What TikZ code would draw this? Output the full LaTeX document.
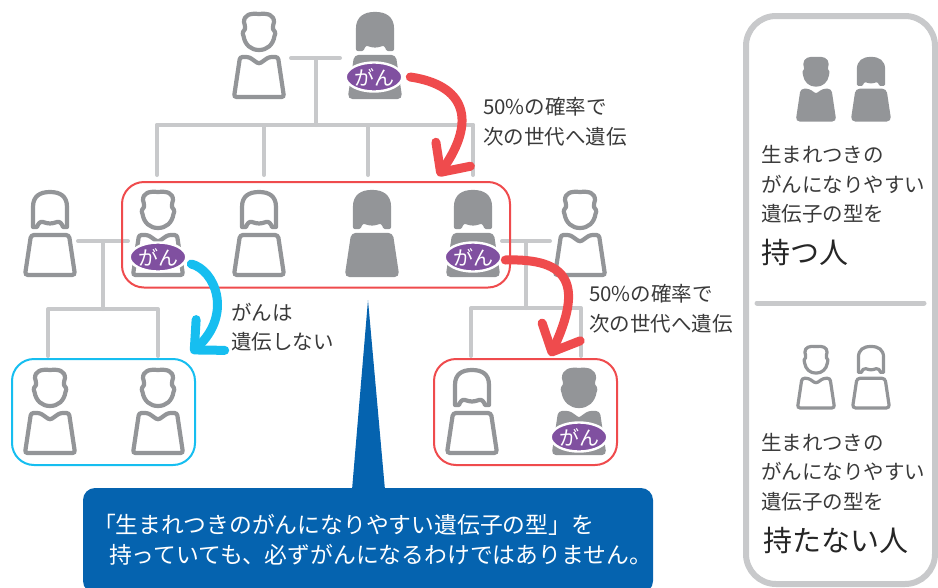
\documentclass[tikz,border=0pt]{standalone}
\usepackage{fontspec}
\setmainfont{Noto Sans CJK JP}
\usetikzlibrary{arrows.meta, positioning, shapes.geometric}

\definecolor{persongray}{HTML}{939598}
\definecolor{treegray}{HTML}{C8C9CB}
\definecolor{riskred}{HTML}{EF4B4D}
\definecolor{safeblue}{HTML}{16BEF0}
\definecolor{notecolor}{HTML}{0563AF}
\definecolor{badgecolor}{HTML}{8050A0}
\definecolor{textcolor}{HTML}{3A3A3A}

\begin{document}
\begin{tikzpicture}[
    x=1pt, y=-1pt,
    every node/.style={outer sep=0pt},
    treeline/.style={draw=treegray, line width=4pt, line cap=round, line join=round},
    badge/.style={ellipse, draw=white, line width=2.4pt, fill=badgecolor, text=white, inner sep=0pt, minimum width=56pt, minimum height=29pt, font=\fontsize{20}{20}\selectfont},
    familybox/.style={draw, rounded corners=22pt, line width=2pt},
    bigarrow/.style={line width=9pt, line cap=round, line join=round, -{Straight Barb[round, length=22pt, width=42pt]}},
    caption/.style={anchor=west, align=left, inner sep=0pt, text=textcolor, font=\fontsize{20.5}{29.5}\selectfont},
    keyword/.style={anchor=west, inner sep=0pt, text=black!85, font=\fontsize{29}{29}\selectfont},
    small/.style={scale=0.74, line width=3.2pt},
    man/.pic={
        \path[draw=persongray, fill=#1, line join=round] (0,2) .. controls (-9,1) and (-15,3) .. (-15,10) .. controls (-15,13) and (-13,14) .. (-14,17) .. controls (-16,19) and (-17,21) .. (-15.5,24) .. controls (-14,33) and (-8,38) .. (0,38) .. controls (8,38) and (14,33) .. (15.5,24) .. controls (17,21) and (16,19) .. (14,17) .. controls (13,14) and (15,13) .. (15,10) .. controls (15,3) and (9,1) .. (0,2) -- cycle;
        \path[draw=persongray, fill=#1, rounded corners=2.5pt] (-19,45) -- (-10,45) -- (0,52) -- (10,45) -- (19,45) -- (25,85) -- (-25,85) -- cycle;
    },
    woman/.pic={
        \path[draw=persongray, fill=#1, line join=round] (-17,17) .. controls (-17,6) and (-10,2) .. (0,2) .. controls (10,2) and (17,6) .. (17,17) -- (17,37) -- (13,37) .. controls (12,34) and (10,31) .. (7,32) .. controls (4,33) and (2,33.5) .. (0,33.5) .. controls (-2,33.5) and (-4,33) .. (-7,32) .. controls (-10,31) and (-12,34) .. (-13,37) -- (-17,37) -- cycle;
        \path[draw=persongray, fill=#1, rounded corners=3pt] (-19,45) -- (19,45) -- (25,85) -- (-25,85) -- cycle;
    },
    line width=4.2pt
]

%Background
\useasboundingbox (0,0) rectangle (938,587);

% Family tree lines
\coordinate (topleft) at (291,58);
\coordinate (topright) at (340,58);
\coordinate (topjoin) at (316,58);
\coordinate (topbus) at (316,125);
\coordinate (dropa) at (157,175);
\coordinate (dropb) at (264,175);
\coordinate (dropc) at (368,175);
\coordinate (dropd) at (473,175);
\draw[treeline] (topleft) -- (topright);
\draw[treeline] (topjoin) -- (topbus);
\draw[treeline] (dropa |- topbus) -- (dropd |- topbus);
\foreach \d in {dropa, dropb, dropc, dropd}
    \draw[treeline] (\d) -- (\d |- topbus);

\coordinate (leftleft) at (78,241);
\coordinate (leftright) at (128,241);
\coordinate (leftjoin) at (103,241);
\coordinate (leftbus) at (103,309);
\coordinate (dropl) at (48,356);
\coordinate (dropm) at (158,356);
\draw[treeline] (leftleft) -- (leftright);
\draw[treeline] (leftjoin) -- (leftbus);
\draw[treeline] (dropl) |- (leftbus) -| (dropm);

\coordinate (rightleft) at (502,241);
\coordinate (rightright) at (550,241);
\coordinate (rightjoin) at (526,241);
\coordinate (rightbus) at (526,308);
\coordinate (dropr) at (471,356);
\coordinate (drops) at (581,356);
\draw[treeline] (rightleft) -- (rightright);
\draw[treeline] (rightjoin) -- (rightbus);
\draw[treeline] (dropr) |- (rightbus) -| (drops);

% People
\pic (grandfather) at (259,12) {man={white}};
\pic (grandmother) at (375,12) {woman={persongray}};

\pic (auntinlaw) at (50,190) {woman={white}};
\pic (uncle) at (158,190) {man={white}};
\pic (aunt) at (259,190) {woman={white}};
\pic (auntfilled) at (372,190) {woman={persongray}};
\pic (mother) at (473,190) {woman={persongray}};
\pic (father) at (580,190) {man={white}};

\pic (cousina) at (50,368) {man={white}};
\pic (cousinb) at (158,368) {man={white}};
\pic (daughter) at (472,368) {woman={white}};
\pic (son) at (579,368) {man={persongray}};

% Family boxes
\node[familybox, draw=riskred, minimum width=388pt, minimum height=105.5pt, anchor=north west] (siblings) at (122,182) {};
\node[familybox, draw=safeblue, minimum width=183pt, minimum height=106pt, anchor=north west] (cousins) at (12,359) {};
\node[familybox, draw=riskred, minimum width=183pt, minimum height=106pt, anchor=north west] (children) at (434,359) {};

% Badges
\node[badge] (gangrand) at (374,77) {がん};
\node[badge] (ganuncle) at (158,257) {がん};
\node[badge] (ganmother) at (473,257) {がん};
\node[badge] (ganson) at (579,437) {がん};

% Arrows
\coordinate (tipgrand) at (438,176);
\coordinate (tipmother) at (550,356);
\coordinate (tipuncle) at (191,353);
\draw[bigarrow, riskred] ([xshift=8pt]gangrand.east) .. controls (465,85) and (477,120) .. (tipgrand);
\draw[bigarrow, riskred] ([xshift=4pt, yshift=-3pt]ganmother.east) .. controls (570,258) and (583,285) .. (tipmother);
\draw[bigarrow, safeblue] ([xshift=5pt, yshift=-7pt]ganuncle.east) .. controls (215,270) and (233,314) .. (tipuncle);

% Labels
\node[caption] (probtop) at (483,121.5) {50\%の確率で\\次の世代へ遺伝};
\node[caption] (probright) at (589,308.5) {50\%の確率で\\次の世代へ遺伝};
\node[caption] (nopass) at (231,327) {がんは\\遺伝しない};

% Note
\coordinate (notetip) at (368,300);
\node[fill=notecolor, rounded corners=12pt, minimum width=570pt, minimum height=105pt, anchor=north west] (note) at (83,488) {};
\fill[notecolor] (notetip) -- (352,490) -- (385,490) -- cycle;
\node[anchor=west, align=left, inner sep=0pt, text=white, font=\fontsize{22.8}{30}\selectfont] (notetext) at (93,540) {「生まれつきのがんになりやすい遺伝子の型」を\\\hspace*{16pt}持っていても、必ずがんになるわけではありません。};

% Legend
\node[draw=treegray, line width=6pt, rounded corners=30pt, minimum width=189pt, minimum height=568pt, anchor=north west] (legend) at (746,16) {};
\coordinate (dividerleft) at (757,303);
\coordinate (dividerright) at (924,303);
\draw[treeline, line width=5pt] (dividerleft) -- (dividerright);

\pic[small] (keyman) at (816,57) {man={persongray}};
\pic[small] (keywoman) at (871,57) {woman={persongray}};
\node[caption] (keytop) at (761,184.5) {生まれつきの\\がんになりやすい\\遺伝子の型を};
\node[keyword] (keyhave) at (761,252) {持つ人};

\pic[small] (noman) at (816,345) {man={white}};
\pic[small] (nowoman) at (871,345) {woman={white}};
\node[caption] (keybottom) at (761,472) {生まれつきの\\がんになりやすい\\遺伝子の型を};
\node[keyword] (keynot) at (763,540) {持たない人};

\end{tikzpicture}
\end{document}
